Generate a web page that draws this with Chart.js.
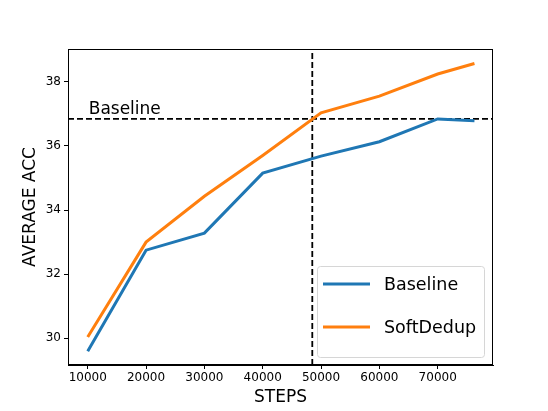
<!DOCTYPE html>
<html>
<head>
<meta charset="utf-8">
<script src="https://cdn.jsdelivr.net/npm/chart.js@4/dist/chart.umd.min.js"></script>
<style>
  html, body { margin: 0; padding: 0; background: #fff; }
  #wrap { width: 548px; height: 411px; }
</style>
</head>
<body>
<div id="wrap"><canvas id="c"></canvas></div>
<script>
// Data
const steps = [10000, 20000, 30000, 40000, 50000, 60000, 70000, 76300];
const baselineAcc = [29.6, 32.75, 33.28, 35.15, 35.68, 36.13, 36.84, 36.78];
const softDedupAcc = [30.04, 33.0, 34.43, 35.7, 37.03, 37.55, 38.24, 38.57];
const xTicks = [10000, 20000, 30000, 40000, 50000, 60000, 70000];
const yTicks = [30, 32, 34, 36, 38];
const baselineLevel = 36.84;
const crossStep = 48500;
const xRange = [6620, 79480];
const yRange = [29.17, 39.02];

const FONT = "'DejaVu Sans', sans-serif";

// frame, annotation text and in-plot legend
const extras = {
  id: 'extras',
  afterDatasetsDraw(chart) {
    const { ctx, chartArea: a, scales } = chart;
    ctx.save();
    ctx.strokeStyle = '#000';
    ctx.lineWidth = 1;
    ctx.strokeRect(a.left + 0.5, a.top + 0.5, a.right - a.left - 1, a.bottom - a.top - 1);

    ctx.fillStyle = '#000';
    ctx.font = '17px ' + FONT;
    ctx.textBaseline = 'alphabetic';
    ctx.fillText('Baseline', scales.x.getPixelForValue(10000) + 1, scales.y.getPixelForValue(baselineLevel) - 5);

    // legend box
    const bx = a.right - 176, by = a.bottom - 99, bw = 167, bh = 91;
    ctx.fillStyle = 'rgba(255,255,255,0.8)';
    ctx.strokeStyle = '#d6d6d6';
    ctx.beginPath();
    ctx.roundRect(bx + 0.5, by + 0.5, bw, bh, 3);
    ctx.fill();
    ctx.stroke();
    const items = [['Baseline', '#1f77b4'], ['SoftDedup', '#ff7f0e']];
    items.forEach(([label, color], i) => {
      const y = by + 18 + i * 43;
      ctx.strokeStyle = color;
      ctx.lineWidth = 3;
      ctx.beginPath();
      ctx.moveTo(bx + 6, y);
      ctx.lineTo(bx + 53, y);
      ctx.stroke();
      ctx.fillStyle = '#000';
      ctx.font = '17.5px ' + FONT;
      ctx.textBaseline = 'middle';
      ctx.fillText(label, bx + 67, y + 1);
    });
    ctx.restore();
  }
};

new Chart(document.getElementById('c'), {
  type: 'line',
  data: {
    datasets: [
      {
        label: 'Baseline',
        data: steps.map((s, i) => ({ x: s, y: baselineAcc[i] })),
        borderColor: '#1f77b4',
        borderWidth: 3,
        pointRadius: 0,
        tension: 0,
      },
      {
        label: 'SoftDedup',
        data: steps.map((s, i) => ({ x: s, y: softDedupAcc[i] })),
        borderColor: '#ff7f0e',
        borderWidth: 3,
        pointRadius: 0,
        tension: 0,
      },
      {
        label: 'hline',
        data: [{ x: xRange[0], y: baselineLevel }, { x: xRange[1], y: baselineLevel }],
        borderColor: '#000',
        borderWidth: 1.8,
        borderDash: [6, 3],
        pointRadius: 0,
      },
      {
        label: 'vline',
        data: [{ x: crossStep, y: yRange[0] }, { x: crossStep, y: yRange[1] }],
        borderColor: '#000',
        borderWidth: 1.8,
        borderDash: [6, 3],
        pointRadius: 0,
      },
    ],
  },
  options: {
    responsive: true,
    maintainAspectRatio: false,
    animation: false,
    layout: { padding: { left: 20, top: 49, right: 55, bottom: 3 } },
    plugins: { legend: { display: false }, tooltip: { enabled: false } },
    scales: {
      x: {
        type: 'linear',
        min: xRange[0],
        max: xRange[1],
        afterBuildTicks: s => { s.ticks = xTicks.map(v => ({ value: v })); },
        afterFit: s => { s.height = 43; },
        grid: { drawOnChartArea: false, tickLength: 4, color: '#000' },
        border: { color: '#000' },
        ticks: { color: '#000', font: { family: FONT, size: 12 }, padding: 2, maxRotation: 0, callback: v => String(v) },
        title: { display: true, text: 'STEPS', color: '#000', font: { family: FONT, size: 17 }, padding: { top: 0, bottom: 0 } },
      },
      y: {
        type: 'linear',
        min: yRange[0],
        max: yRange[1],
        afterBuildTicks: s => { s.ticks = yTicks.map(v => ({ value: v })); },
        afterFit: s => { s.width = 48; },
        grid: { drawOnChartArea: false, tickLength: 4, color: '#000' },
        border: { color: '#000' },
        ticks: { color: '#000', font: { family: FONT, size: 12 }, padding: 3, callback: v => String(v) },
        title: { display: true, text: 'AVERAGE ACC', color: '#000', font: { family: FONT, size: 17 }, padding: { top: 0, bottom: 0 } },
      },
    },
  },
  plugins: [extras],
});
</script>
</body>
</html>
